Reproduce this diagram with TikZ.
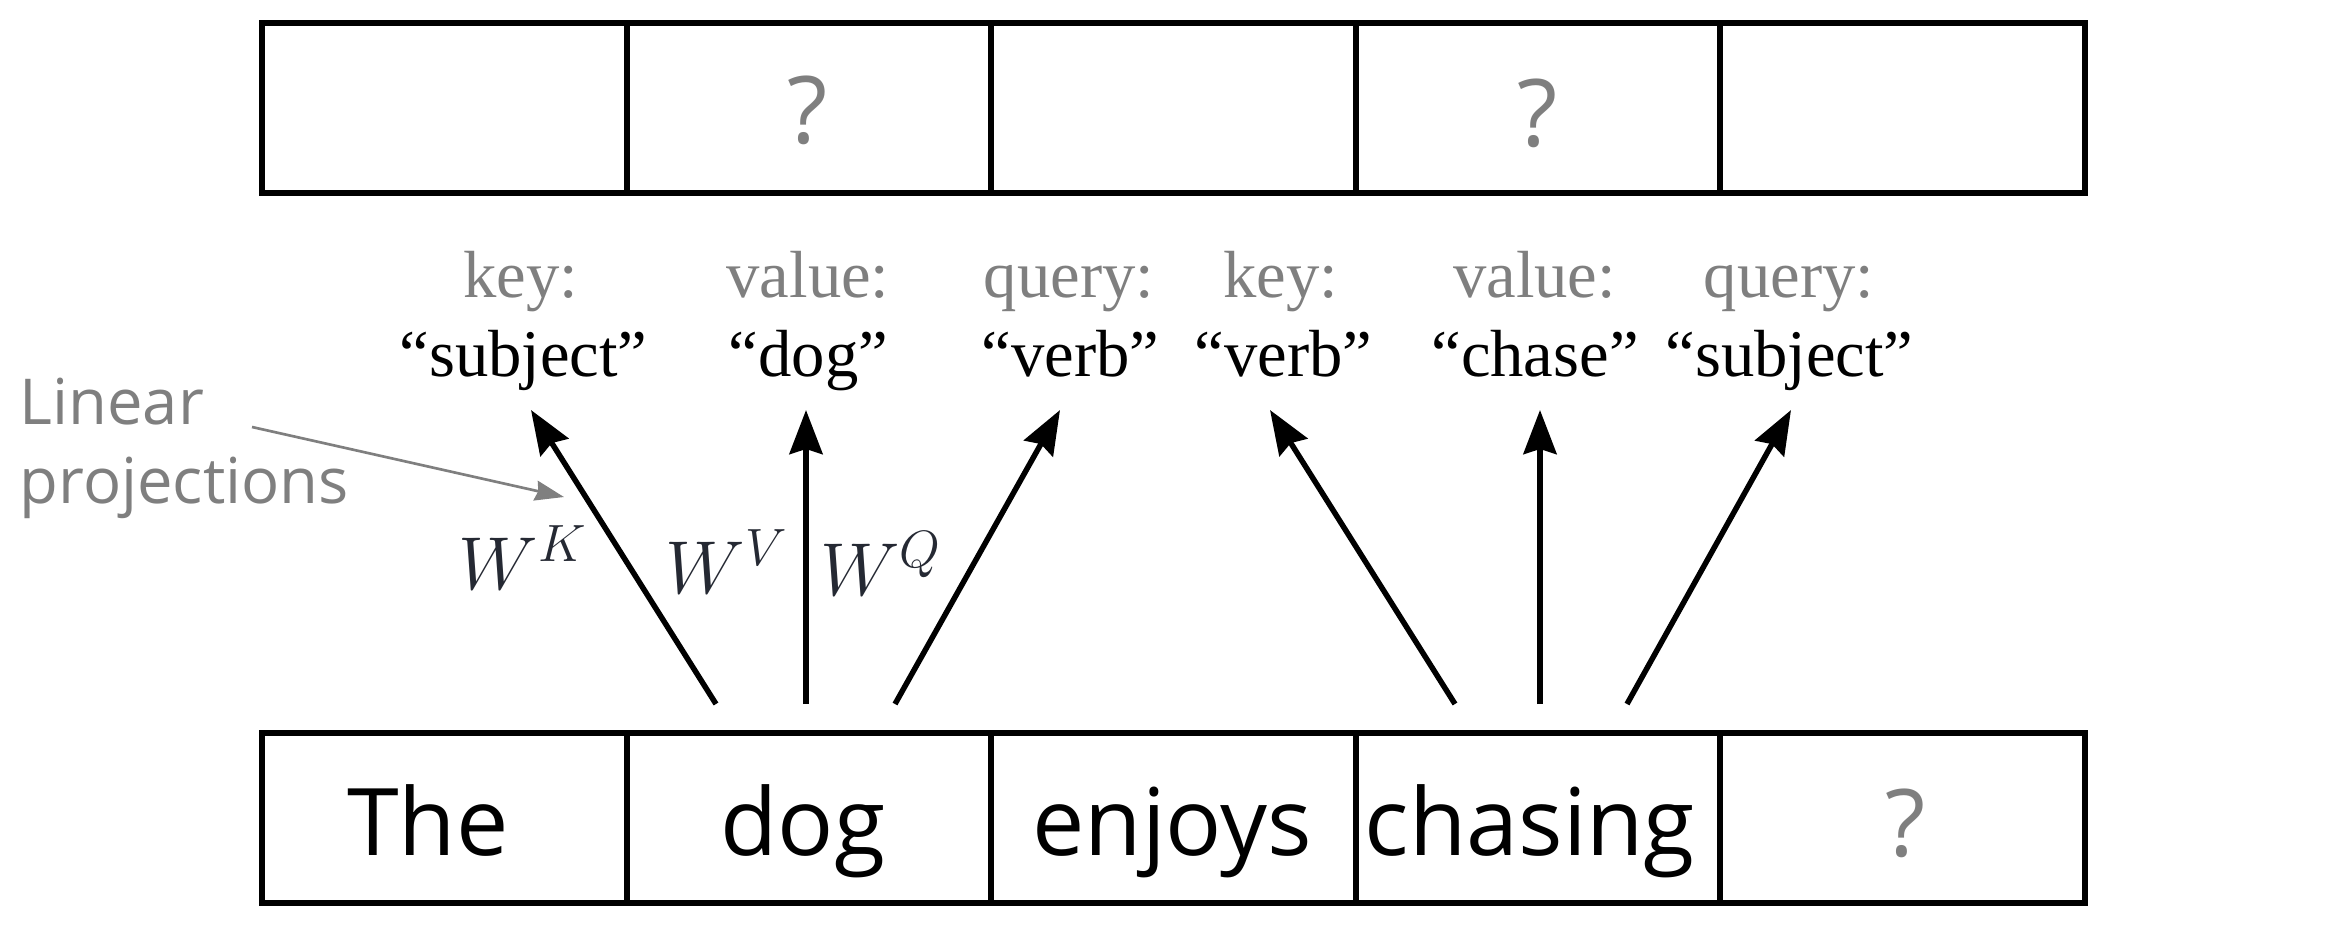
\RequirePackage{fix-cm}
\documentclass[tikz,border=0pt]{standalone}
\usepackage{fontspec}
\setmainfont{Liberation Serif}
\newfontfamily\osans{Open Sans}
\usetikzlibrary{arrows.meta}
\definecolor{lblgray}{RGB}{127,127,127}
\definecolor{wnavy}{RGB}{37,41,51}
\begin{document}
\begin{tikzpicture}[x=0.3pt,y=-0.3pt,
  cell/.style={draw, line width=1.8pt, minimum width=109.38pt, minimum height=51pt, inner sep=0pt, outer sep=0pt},
  lab/.style={anchor=base, inner sep=0pt, font=\fontsize{20pt}{24pt}\selectfont},
  graylab/.style={lab, text=lblgray},
  word/.style={anchor=base, inner sep=0pt, font=\osans\fontsize{28pt}{32pt}\selectfont},
  qmark/.style={word, text=lblgray},
  wlab/.style={anchor=base, inner sep=0pt, text=wnavy, font=\fontsize{22.5pt}{27pt}\selectfont},
  proj/.style={line width=1.65pt, -{Stealth[length=13.2pt, width=9.9pt, inset=1.5pt]}},
  note/.style={draw=lblgray, line width=0.8pt, -{Stealth[length=8.7pt, width=6pt, inset=0.8pt, fill=lblgray]}},
  notetext/.style={anchor=base west, inner sep=0pt, text=lblgray, font=\osans\fontsize{19pt}{23.7pt}\selectfont}
]
\useasboundingbox (0,0) rectangle (2336,932);

% cells
\foreach \i/\x in {1/444.3,2/808.9,3/1173.5,4/1538.1,5/1902.7}{
  \node[cell] (t\i) at (\x,108) {};
  \node[cell] (b\i) at (\x,818) {};
}

% top question marks
\node[qmark] (tq2) at (808,143) {?};
\node[qmark] (tq4) at (1537.6,146) {?};

% bottom words
\node[word] (wThe) at (428,855) {The};
\node[word] (wdog) at (803,855) {dog};
\node[word] (wenj) at (1172,855) {enjoys};
\node[word] (wcha) at (1530,855) {chasing};
\node[qmark] (wq) at (1905.5,856) {?};

% labels
\node[graylab] (k1) at (521,297) {key:};
\node[lab] (k1v) at (523.5,376) {“subject”};
\node[graylab] (v1) at (808,297) {value:};
\node[lab] (v1v) at (808.5,376) {“dog”};
\node[graylab] (q1) at (1069,297) {query:};
\node[lab] (q1v) at (1070.5,376) {“verb”};
\node[graylab] (k2) at (1281,297) {key:};
\node[lab] (k2v) at (1283.5,376) {“verb”};
\node[graylab] (v2) at (1534.5,297) {value:};
\node[lab] (v2v) at (1535,376) {“chase”};
\node[graylab] (q2) at (1789,297) {query:};
\node[lab] (q2v) at (1789.5,376) {“subject”};

% arrow ends
\coordinate (s1) at (716,704);  \coordinate (e1) at (531,410);
\coordinate (s2) at (806,704);  \coordinate (e2) at (806,410);
\coordinate (s3) at (895,704);  \coordinate (e3) at (1060,410);
\coordinate (s4) at (1455,704); \coordinate (e4) at (1270,410);
\coordinate (s5) at (1540,704); \coordinate (e5) at (1540,410);
\coordinate (s6) at (1627,704); \coordinate (e6) at (1791,410);
\foreach \i in {1,...,6}{ \draw[proj] (s\i) -- (e\i); }

% W labels
\node[wlab] (WK) at (523,589) {$W^{K}$};
\node[wlab] (WV) at (727,593) {$W^{V}$};
\node[wlab] (WQ) at (881,595) {$W^{Q}$};

% linear projections note
\node[notetext] (lp1) at (19,424) {Linear};
\node[notetext] (lp2) at (19,503) {projections};
\coordinate (lps) at (252,427);
\coordinate (lpe) at (564,497);
\draw[note] (lps) -- (lpe);
\end{tikzpicture}
\end{document}
